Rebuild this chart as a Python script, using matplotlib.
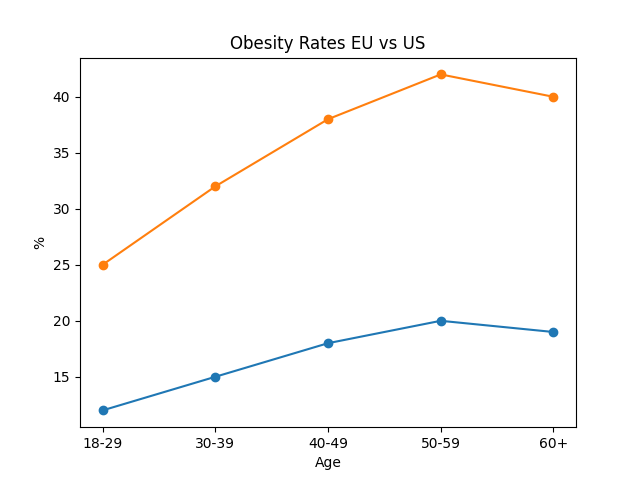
import matplotlib
matplotlib.use("Agg")
import matplotlib.pyplot as plt

ages = ["18-29", "30-39", "40-49", "50-59", "60+"]
eu_rates = [12, 15, 18, 20, 19]
us_rates = [25, 32, 38, 42, 40]

fig, ax = plt.subplots(figsize=(6.4, 4.8), dpi=100)
ax.plot(ages, eu_rates, marker="o", label="EU")
ax.plot(ages, us_rates, marker="o", label="US")
ax.set_title("Obesity Rates EU vs US")
ax.set_xlabel("Age")
ax.set_ylabel("%")
fig.savefig("out.png")
